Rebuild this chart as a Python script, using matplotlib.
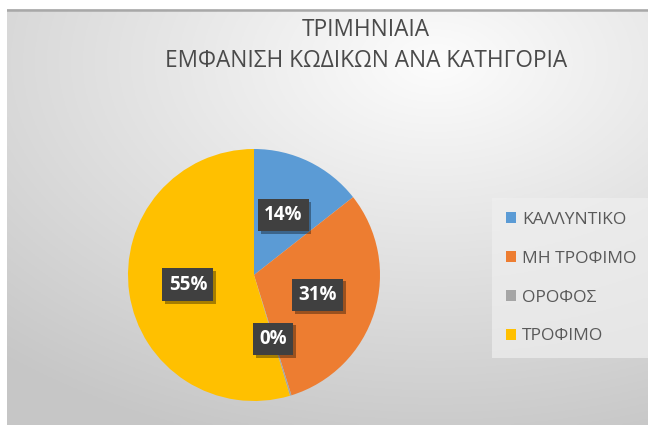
import numpy as np
import matplotlib
matplotlib.use("Agg")
import matplotlib.pyplot as plt
import matplotlib.patheffects as pe

plt.rcParams['font.family'] = ['Open Sans', 'DejaVu Sans']

title_lines = ["ΤΡΙΜΗΝΙΑΙΑ", "ΕΜΦΑΝΙΣΗ ΚΩΔΙΚΩΝ ΑΝΑ ΚΑΤΗΓΟΡΙΑ"]
categories = ["ΚΑΛΛΥΝΤΙΚΟ", "ΜΗ ΤΡΟΦΙΜΟ", "ΟΡΟΦΟΣ", "ΤΡΟΦΙΜΟ"]
values = [14.4, 30.8, 0.2, 54.6]
colors = ["#5B9BD5", "#ED7D31", "#A5A5A5", "#FFC000"]

W, H = 648, 425
fig = plt.figure(figsize=(W / 100, H / 100), dpi=100)
fig.patch.set_facecolor("white")

# background gradient chart area
bg = fig.add_axes([7 / W, 0, (W - 7) / W, (H - 9) / H])
bg.set_axis_off()
yy, xx = np.mgrid[0:200, 0:300]
cx, cy = 200, 25
d = np.sqrt(((xx - cx) / 300.0) ** 2 + ((yy - cy) / 190.0) ** 2)
vals = np.clip(0.99 - 0.21 * d, 0.78, 1.0)
bg.imshow(np.dstack([vals, vals, vals]), aspect="auto", extent=[0, 1, 0, 1],
          origin="upper")
bg.plot([0, 1], [0.997, 0.997], color="#a8a8a8", lw=1.8, transform=bg.transAxes)
bg.set_xlim(0, 1)
bg.set_ylim(0, 1)

# pie
cxp, cyp, r = 254, 275, 126
ax = fig.add_axes([(cxp - r) / W, (H - cyp - r) / H, 2 * r / W, 2 * r / H])
ax.set_facecolor("none")
wedges, texts, autotexts = ax.pie(
    values, colors=colors, startangle=90, counterclock=False,
    autopct="%1.0f%%", pctdistance=0.53, radius=1.0,
    wedgeprops=dict(linewidth=0),
    textprops=dict(color="white", fontsize=13.5, fontweight="bold"),
)
for t in autotexts:
    t.set_bbox(dict(boxstyle="square,pad=0.33", facecolor="#404040", edgecolor="none"))
    t.get_bbox_patch().set_path_effects(
        [pe.SimplePatchShadow(offset=(2, -2), shadow_rgbFace="#000000", alpha=0.35), pe.Normal()])
ax.set_xlim(-1, 1)
ax.set_ylim(-1, 1)
ax.set_aspect("equal")

# title
fig.text(366 / W, 1 - 30 / H, title_lines[0], ha="center", va="center",
         fontsize=16.3, color="#4a4a4a", fontweight="medium")
fig.text(366 / W, 1 - 61 / H, title_lines[1], ha="center", va="center",
         fontsize=16.3, color="#4a4a4a", fontweight="medium")

# legend
leg = fig.legend(wedges, categories, loc="upper left",
                 bbox_to_anchor=(497 / W, 1 - 203 / H), frameon=True,
                 fontsize=12.5, labelcolor="#595959", handlelength=0.6,
                 handleheight=0.6, handletextpad=0.35, labelspacing=1.32,
                 borderpad=0.5, borderaxespad=0)
leg.get_frame().set_facecolor("#efefef")
leg.get_frame().set_edgecolor("none")
leg.get_frame().set_alpha(0.7)
leg.get_frame().set_boxstyle("square")

fig.savefig("out.png", dpi=100, facecolor=fig.get_facecolor())
